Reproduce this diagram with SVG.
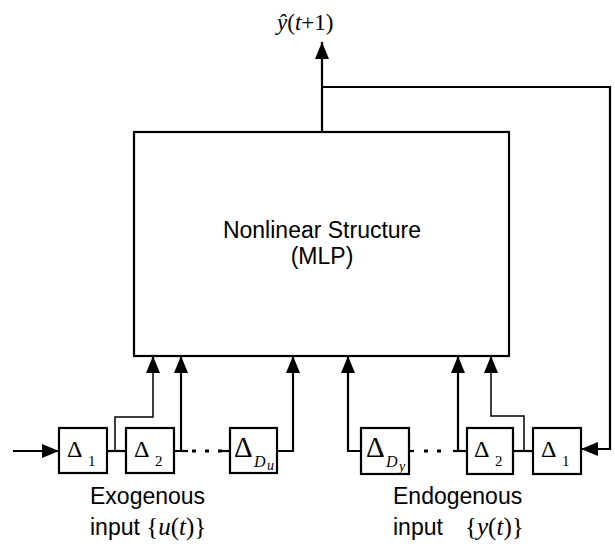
<svg xmlns="http://www.w3.org/2000/svg" width="615" height="552" viewBox="0 0 615 552">
<style>
.ln{fill:none;stroke:#000;stroke-width:2.2}
.th{fill:none;stroke:#000;stroke-width:1.5}
.bx{fill:#fff;stroke:#000;stroke-width:2.2}
.sans{font-family:"Liberation Sans",Arial,sans-serif;fill:#000}
.ser{font-family:"Liberation Serif","Times New Roman",serif;fill:#000}
.it{font-style:italic}
.dots{fill:none;stroke:#000;stroke-width:3;stroke-dasharray:4 9}
</style>
<defs>
<marker id="ah" markerUnits="userSpaceOnUse" markerWidth="18" markerHeight="16" refX="17" refY="7" orient="auto">
<path d="M0,0 L17,7 L0,14 Z" fill="#000"/>
</marker>
</defs>
<g id="mlp">
<rect class="bx" x="134" y="132" width="375" height="224"/>
<text class="sans" x="322" y="238" font-size="23" text-anchor="middle">Nonlinear Structure</text>
<text class="sans" x="322" y="264" font-size="23" text-anchor="middle">(MLP)</text>
</g>
<g id="connectors">
<line class="ln" x1="322" y1="132" x2="322" y2="42" marker-end="url(#ah)"/>
<path class="ln" d="M322,87 H610 V449 H581" marker-end="url(#ah)"/>
<line class="ln" x1="13" y1="451" x2="59" y2="451" marker-end="url(#ah)"/>
<line class="ln" x1="107" y1="451" x2="126" y2="451"/>
<path class="th" d="M115,451 V417 H153 V372"/>
<line class="ln" x1="153" y1="373" x2="153" y2="356" marker-end="url(#ah)"/>
<path class="ln" d="M174,451 H181 V356" marker-end="url(#ah)"/>
<line class="ln" x1="181" y1="451" x2="188" y2="451"/>
<line class="dots" x1="192" y1="451" x2="225" y2="451"/>
<line class="ln" x1="222" y1="451" x2="230" y2="451"/>
<path class="ln" d="M277,451 H293 V356" marker-end="url(#ah)"/>
<path class="ln" d="M361,451 H348 V356" marker-end="url(#ah)"/>
<line class="ln" x1="409" y1="451" x2="414" y2="451"/>
<line class="dots" x1="424" y1="451" x2="450" y2="451"/>
<line class="ln" x1="453" y1="451" x2="467" y2="451"/>
<line class="ln" x1="458" y1="451" x2="458" y2="356" marker-end="url(#ah)"/>
<line class="ln" x1="513" y1="451" x2="533" y2="451"/>
<path class="th" d="M524,451 V416 H491 V372"/>
<line class="ln" x1="491" y1="373" x2="491" y2="356" marker-end="url(#ah)"/>
</g>
<g id="out-label">
<text class="ser" x="277" y="30" font-size="23"><tspan class="it">ŷ</tspan>(<tspan class="it">t</tspan>+1)</text>
</g>
<g id="du1">
<rect class="bx" x="59" y="428" width="48" height="45"/>
<text class="ser" x="67" y="457" font-size="24">Δ</text>
<text class="ser" x="88" y="466" font-size="15">1</text>
</g>
<g id="du2">
<rect class="bx" x="126" y="428" width="48" height="45"/>
<text class="ser" x="134" y="457" font-size="24">Δ</text>
<text class="ser" x="155" y="466" font-size="15">2</text>
</g>
<g id="duD">
<rect class="bx" x="230" y="428" width="47" height="45"/>
<text class="ser" x="234" y="457" font-size="29">Δ</text>
<text class="ser it" x="254" y="467" font-size="16">D</text>
<text class="ser it" x="267" y="470" font-size="14">u</text>
</g>
<g id="dyD">
<rect class="bx" x="361" y="428" width="48" height="46"/>
<text class="ser" x="366" y="457" font-size="29">Δ</text>
<text class="ser it" x="386" y="467" font-size="16">D</text>
<text class="ser it" x="399" y="471" font-size="14">y</text>
</g>
<g id="dy2">
<rect class="bx" x="467" y="428" width="46" height="46"/>
<text class="ser" x="474" y="457" font-size="24">Δ</text>
<text class="ser" x="495" y="466" font-size="15">2</text>
</g>
<g id="dy1">
<rect class="bx" x="533" y="428" width="48" height="46"/>
<text class="ser" x="541" y="457" font-size="24">Δ</text>
<text class="ser" x="562" y="466" font-size="15">1</text>
</g>
<g id="exo-label">
<text class="sans" x="90" y="504" font-size="23">Exogenous</text>
<text x="90" y="535" font-size="23"><tspan class="sans">input </tspan><tspan class="ser" font-size="25">{<tspan class="it">u</tspan>(<tspan class="it">t</tspan>)}</tspan></text>
</g>
<g id="endo-label">
<text class="sans" x="393" y="504" font-size="23">Endogenous</text>
<text x="393" y="535" font-size="23"><tspan class="sans">input</tspan><tspan class="ser" font-size="25" x="465">{<tspan class="it">y</tspan>(<tspan class="it">t</tspan>)}</tspan></text>
</g>
</svg>
